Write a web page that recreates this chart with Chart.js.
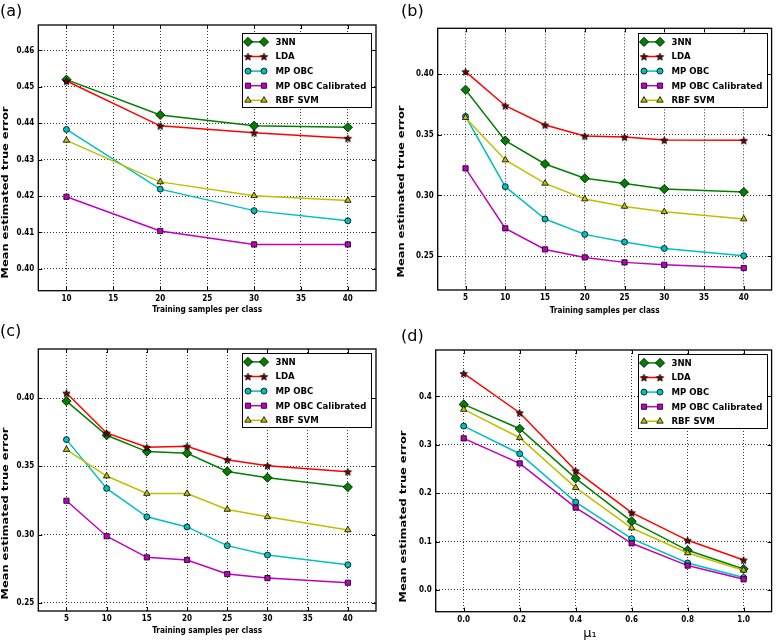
<!DOCTYPE html>
<html>
<head>
<meta charset="utf-8">
<script src="https://cdn.jsdelivr.net/npm/chart.js@4/dist/chart.umd.min.js"></script>
<style>
  body { margin: 0; background: #fff; }
  #fig { position: relative; width: 777px; height: 640px; overflow: hidden; background: #fff; }
  canvas { position: absolute; }
  .tag { position: absolute; font-family: "DejaVu Sans", sans-serif; font-size: 16px; line-height: 1; color: #000; }
</style>
</head>
<body>
<div id="fig">
  <canvas id="ca" style="left:0;top:0" width="388" height="320"></canvas>
  <canvas id="cb" style="left:388px;top:0" width="389" height="320"></canvas>
  <canvas id="cc" style="left:0;top:320px" width="388" height="320"></canvas>
  <canvas id="cd" style="left:388px;top:320px" width="389" height="320"></canvas>
  <div class="tag" style="left:0;top:3px">(a)</div>
  <div class="tag" style="left:401px;top:3px">(b)</div>
  <div class="tag" style="left:0;top:323px">(c)</div>
  <div class="tag" style="left:401px;top:328px">(d)</div>
</div>
<script>
// series names, same order in every panel
const seriesNames = ['3NN', 'LDA', 'MP OBC', 'MP OBC Calibrated', 'RBF SVM'];

// (a)
const samplesA = [10, 20, 30, 40];
const nnA = [0.4520, 0.4423, 0.4393, 0.4389];
const ldaA = [0.4516, 0.4393, 0.4374, 0.4359];
const obcA = [0.4383, 0.4219, 0.4160, 0.4132];
const obcCalA = [0.4198, 0.4104, 0.4067, 0.4067];
const svmA = [0.4353, 0.4239, 0.4201, 0.4188];
const xTicksA = [10, 15, 20, 25, 30, 35, 40];
const yTicksA = [0.40, 0.41, 0.42, 0.43, 0.44, 0.45, 0.46];

// (b)
const samplesB = [5, 10, 15, 20, 25, 30, 40];
const nnB = [0.3873, 0.3453, 0.3260, 0.3142, 0.3100, 0.3053, 0.3029];
const ldaB = [0.4022, 0.3741, 0.3582, 0.3491, 0.3483, 0.3458, 0.3455];
const obcB = [0.3653, 0.3073, 0.2806, 0.2679, 0.2616, 0.2563, 0.2503];
const obcCalB = [0.3224, 0.2729, 0.2555, 0.2489, 0.2448, 0.2428, 0.2401];
const svmB = [0.3642, 0.3293, 0.3100, 0.2971, 0.2910, 0.2866, 0.2806];
const xTicksB = [5, 10, 15, 20, 25, 30, 35, 40];
const yTicksB = [0.25, 0.30, 0.35, 0.40];

// (c)
const samplesC = [5, 10, 15, 20, 25, 30, 40];
const nnC = [0.3978, 0.3728, 0.3608, 0.3596, 0.3463, 0.3417, 0.3348];
const ldaC = [0.4037, 0.3745, 0.3640, 0.3647, 0.3549, 0.3505, 0.3461];
const obcC = [0.3696, 0.3338, 0.3130, 0.3056, 0.2919, 0.2850, 0.2779];
const obcCalC = [0.3248, 0.2988, 0.2833, 0.2814, 0.2711, 0.2681, 0.2647];
const svmC = [0.3623, 0.3429, 0.3301, 0.3301, 0.3184, 0.3130, 0.3034];
const xTicksC = [5, 10, 15, 20, 25, 30, 35, 40];
const yTicksC = [0.25, 0.30, 0.35, 0.40];

// (d)
const muD = [0.0, 0.2, 0.4, 0.6, 0.8, 1.0];
const nnD = [0.3835, 0.3332, 0.2306, 0.1418, 0.0819, 0.0434];
const ldaD = [0.4475, 0.3663, 0.2465, 0.1597, 0.1026, 0.0620];
const obcD = [0.3387, 0.2816, 0.1817, 0.1060, 0.0558, 0.0255];
const obcCalD = [0.3133, 0.2616, 0.1700, 0.0964, 0.0503, 0.0220];
const svmD = [0.3731, 0.3146, 0.2114, 0.1280, 0.0764, 0.0406];
const xTicksD = [0.0, 0.2, 0.4, 0.6, 0.8, 1.0];
const yTicksD = [0.0, 0.1, 0.2, 0.3, 0.4];

const FONT = '"DejaVu Sans Condensed", "DejaVu Sans", sans-serif';

function starCanvas(r, fill) {
  const s = Math.ceil(r * 2 + 3);
  const c = document.createElement('canvas');
  c.width = s; c.height = s;
  const g = c.getContext('2d');
  g.beginPath();
  for (let i = 0; i < 10; i++) {
    const a = -Math.PI / 2 + i * Math.PI / 5;
    const rr = i % 2 ? r * 0.42 : r;
    g.lineTo(s / 2 + rr * Math.cos(a), s / 2 + 0.5 + rr * Math.sin(a));
  }
  g.closePath();
  g.fillStyle = fill; g.fill();
  g.lineWidth = 0.8; g.strokeStyle = '#000'; g.stroke();
  return c;
}
const star = starCanvas(3.9, '#7a0000');

const looks = [
  { color: '#008000', style: 'rectRot', r: 4.6 },
  { color: '#ff0000', style: star, r: 4 },
  { color: '#00bfbf', style: 'circle', r: 3 },
  { color: '#bf00bf', style: 'rect', r: 3.7 },
  { color: '#bfbf00', style: 'triangle', r: 3.7 }
];

function drawMarker(ctx, style, x, y, r) {
  if (typeof style !== 'string') {
    ctx.drawImage(style, x - style.width / 2, y - style.height / 2);
    return;
  }
  ctx.beginPath();
  if (style === 'circle') {
    ctx.arc(x, y, r, 0, Math.PI * 2);
  } else if (style === 'rect') {
    const s = r * Math.SQRT1_2;
    ctx.rect(x - s, y - s, 2 * s, 2 * s);
  } else if (style === 'rectRot') {
    ctx.moveTo(x, y - r); ctx.lineTo(x + r, y); ctx.lineTo(x, y + r); ctx.lineTo(x - r, y);
    ctx.closePath();
  } else if (style === 'triangle') {
    let a = 0;
    ctx.moveTo(x + Math.sin(a) * r, y - Math.cos(a) * r);
    a += Math.PI * 2 / 3;
    ctx.lineTo(x + Math.sin(a) * r, y - Math.cos(a) * r);
    a += Math.PI * 2 / 3;
    ctx.lineTo(x + Math.sin(a) * r, y - Math.cos(a) * r);
    ctx.closePath();
  }
  ctx.fill();
  ctx.stroke();
}

// axes frame, inward tick marks, axis titles and matplotlib-like legend box
const framePlugin = {
  id: 'frame',
  afterDraw(chart, args, opts) {
    const { ctx, chartArea: a } = chart;
    const xs = chart.scales.x, ys = chart.scales.y;
    ctx.save();
    ctx.strokeStyle = '#000';
    ctx.lineWidth = 1;
    ctx.beginPath();
    xs.ticks.forEach(t => {
      const px = Math.round(xs.getPixelForValue(t.value)) + 0.5;
      ctx.moveTo(px, a.bottom); ctx.lineTo(px, a.bottom - 4);
      ctx.moveTo(px, a.top); ctx.lineTo(px, a.top + 4);
    });
    ys.ticks.forEach(t => {
      const py = Math.round(ys.getPixelForValue(t.value)) + 0.5;
      ctx.moveTo(a.left, py); ctx.lineTo(a.left + 4, py);
      ctx.moveTo(a.right, py); ctx.lineTo(a.right - 4, py);
    });
    ctx.stroke();
    ctx.lineWidth = 1.3;
    ctx.strokeRect(a.left, a.top, a.right - a.left, a.bottom - a.top);

    // y axis title (drawn stretched along its length, as in the source figure)
    ctx.fillStyle = '#000';
    ctx.save();
    ctx.font = 'bold 8.6px ' + FONT;
    const sx = 172 / ctx.measureText(opts.yTitle).width;
    ctx.translate(opts.yTitleX, opts.yTitleY);
    ctx.rotate(-Math.PI / 2);
    ctx.scale(sx, 1);
    ctx.textAlign = 'center';
    ctx.textBaseline = 'middle';
    ctx.fillText(opts.yTitle, 0, 0);
    ctx.restore();

    // x axis title
    ctx.font = opts.xTitleFont;
    ctx.textAlign = 'center';
    ctx.textBaseline = 'middle';
    ctx.fillText(opts.xTitle, opts.xTitleX != null ? opts.xTitleX : (a.left + a.right) / 2, opts.xTitleY);

    // legend
    const w = 129, h = 74;
    const lx = Math.round(a.right - 5 - w) + 0.5;
    const ly = Math.round(a.top + opts.top) + 0.5;
    ctx.fillStyle = '#fff';
    ctx.fillRect(lx, ly, w, h);
    ctx.lineWidth = 1;
    ctx.strokeStyle = '#000';
    ctx.strokeRect(lx, ly, w, h);
    ctx.font = 'bold 9.5px ' + FONT;
    ctx.textAlign = 'left';
    ctx.textBaseline = 'middle';
    chart.data.datasets.forEach((ds, i) => {
      const y = ly + 8.4 + i * 14.6;
      const x1 = lx + 5.5, x2 = lx + 21.5;
      ctx.strokeStyle = ds.borderColor;
      ctx.lineWidth = 1.5;
      ctx.beginPath(); ctx.moveTo(x1, y); ctx.lineTo(x2, y); ctx.stroke();
      ctx.fillStyle = ds.pointBackgroundColor;
      ctx.strokeStyle = '#000';
      ctx.lineWidth = 0.8;
      drawMarker(ctx, ds.pointStyle, x1, y, ds.pointRadius);
      drawMarker(ctx, ds.pointStyle, x2, y, ds.pointRadius);
      ctx.fillStyle = '#000';
      ctx.fillText(ds.label, lx + 33, y + 0.5);
    });
    ctx.restore();
  }
};

function makePanel(id, p) {
  const datasets = p.series.map((vals, i) => ({
    label: seriesNames[i],
    data: vals.map((v, j) => ({ x: p.xs[j], y: v })),
    borderColor: looks[i].color,
    backgroundColor: looks[i].color,
    pointBackgroundColor: looks[i].color,
    pointBorderColor: '#000',
    pointBorderWidth: 0.8,
    pointStyle: looks[i].style,
    pointRadius: looks[i].r,
    borderWidth: 1.5,
    tension: 0,
    order: seriesNames.length - i
  }));
  const tickFont = { family: FONT, size: 8, weight: 'bold' };
  return new Chart(document.getElementById(id), {
    type: 'line',
    data: { datasets },
    options: {
      responsive: false,
      animation: false,
      events: [],
      layout: { padding: p.pad },
      plugins: {
        legend: { display: false },
        tooltip: { enabled: false },
        frame: {
          top: p.legendTop,
          yTitle: 'Mean estimated true error', yTitleX: p.yTitleX, yTitleY: p.yTitleY,
          xTitle: p.xTitle, xTitleX: p.xTitleX, xTitleY: p.xTitleY,
          xTitleFont: p.xTitleFont || ('bold 8.2px ' + FONT)
        }
      },
      scales: {
        x: {
          type: 'linear',
          min: p.xMin, max: p.xMax,
          afterBuildTicks: s => { s.ticks = p.xTicks.map(v => ({ value: v })); },
          afterFit: s => { s.height = p.xHeight; },
          grid: { color: '#000', lineWidth: 0.8, drawTicks: false },
          border: { display: false, dash: [1, 2] },
          ticks: {
            autoSkip: false, maxRotation: 0, padding: 3, color: '#000', font: tickFont,
            callback: v => v.toFixed(p.xDec)
          }
        },
        y: {
          type: 'linear',
          min: p.yMin, max: p.yMax,
          afterBuildTicks: s => { s.ticks = p.yTicks.map(v => ({ value: v })); },
          afterFit: s => { s.width = p.yWidth; },
          grid: { color: '#000', lineWidth: 0.8, drawTicks: false },
          border: { display: false, dash: [1, 2] },
          ticks: {
            autoSkip: false, padding: 4, color: '#000', font: tickFont,
            callback: v => v.toFixed(p.yDec)
          }
        }
      }
    },
    plugins: [framePlugin]
  });
}

const xLabel = 'Training samples per class';

makePanel('ca', {
  xs: samplesA, series: [nnA, ldaA, obcA, obcCalA, svmA],
  xMin: 7, xMax: 43, yMin: 0.394, yMax: 0.467,
  xTicks: xTicksA, yTicks: yTicksA, xDec: 0, yDec: 2,
  pad: { left: 0, right: 12, top: 25, bottom: 0 },
  yWidth: 38.3, xHeight: 29.3, legendTop: 8,
  xTitle: xLabel, xTitleY: 310, yTitleX: 5.5, yTitleY: 192.5
});
makePanel('cb', {
  xs: samplesB, series: [nnB, ldaB, obcB, obcCalB, svmB],
  xMin: 1.5, xMax: 43.5, yMin: 0.222, yMax: 0.438,
  xTicks: xTicksB, yTicks: yTicksB, xDec: 0, yDec: 2,
  pad: { left: 8, right: 0.5, top: 28.3, bottom: 0 },
  yWidth: 41.7, xHeight: 30, legendTop: 5,
  xTitle: xLabel, xTitleY: 310.5, yTitleX: 13.5, yTitleY: 191.5
});
makePanel('cc', {
  xs: samplesC, series: [nnC, ldaC, obcC, obcCalC, svmC],
  xMin: 1.5, xMax: 43.5, yMin: 0.244, yMax: 0.436,
  xTicks: xTicksC, yTicks: yTicksC, xDec: 0, yDec: 2,
  pad: { left: 0, right: 12, top: 29, bottom: 0 },
  yWidth: 38.3, xHeight: 29, legendTop: 4.3,
  xTitle: xLabel, xTitleY: 310.5, yTitleX: 5.5, yTitleY: 193.5
});
makePanel('cd', {
  xs: muD, series: [nnD, ldaD, obcD, obcCalD, svmD],
  xMin: -0.1, xMax: 1.1, yMin: -0.045, yMax: 0.496,
  xTicks: xTicksD, yTicks: yTicksD, xDec: 1, yDec: 1,
  pad: { left: 10, right: 3.7, top: 30, bottom: 0 },
  yWidth: 37.7, xHeight: 28.3, legendTop: 4.3,
  xTitle: 'μ\u2081', xTitleX: 202, xTitleY: 314, xTitleFont: '13px "DejaVu Sans", sans-serif',
  yTitleX: 16, yTitleY: 196.5
});
</script>
</body>
</html>
